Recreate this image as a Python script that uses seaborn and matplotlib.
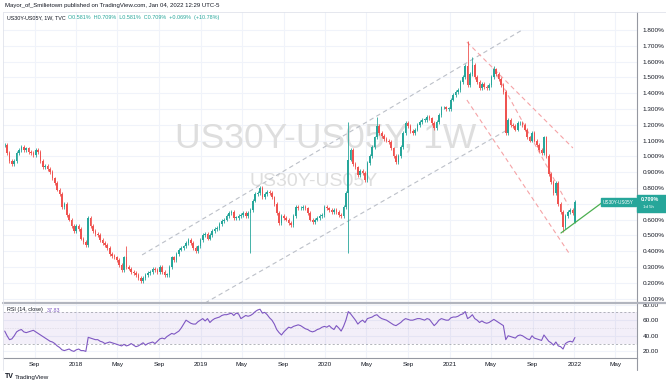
import numpy as np
import pandas as pd
import seaborn as sns
import matplotlib.pyplot as plt

# weekly closes of the US30Y-US05Y spread (%)
last_week = "2022-01-03"
closes = [
    1.07, 1.02, 0.97, 0.95, 0.97, 1.02, 1.04, 1.06, 1.04, 1.05,
    1.03, 1.02, 1.01, 1.04, 1.03, 0.97, 0.93, 0.94, 0.92, 0.90,
    0.86, 0.83, 0.79, 0.76, 0.68, 0.70, 0.63, 0.60, 0.56, 0.53,
    0.56, 0.54, 0.48, 0.46, 0.44, 0.61, 0.56, 0.53, 0.51, 0.50,
    0.47, 0.45, 0.44, 0.42, 0.38, 0.37, 0.36, 0.345, 0.31, 0.28,
    0.36, 0.30, 0.29, 0.27, 0.26, 0.25, 0.23, 0.21, 0.23, 0.25,
    0.26, 0.27, 0.29, 0.28, 0.27, 0.30, 0.27, 0.25, 0.25, 0.30,
    0.36, 0.345, 0.38, 0.41, 0.42, 0.43, 0.45, 0.47, 0.45, 0.42,
    0.40, 0.43, 0.47, 0.50, 0.51, 0.48, 0.50, 0.53, 0.54, 0.545,
    0.57, 0.59, 0.60, 0.62, 0.64, 0.65, 0.61, 0.61, 0.62, 0.63,
    0.64, 0.62, 0.64, 0.66, 0.72, 0.76, 0.77, 0.80, 0.74, 0.76,
    0.775, 0.77, 0.74, 0.70, 0.64, 0.58, 0.62, 0.61, 0.60, 0.58,
    0.565, 0.62, 0.68, 0.67, 0.675, 0.68, 0.67, 0.64, 0.60, 0.585,
    0.60, 0.61, 0.62, 0.63, 0.68, 0.67, 0.66, 0.65, 0.66, 0.65,
    0.63, 0.62, 0.68, 0.77, 0.98, 1.04, 0.95, 0.93, 0.88, 0.91,
    0.895, 0.85, 0.96, 1.00, 1.06, 1.12, 1.19, 1.15, 1.13, 1.11,
    1.10, 1.09, 1.05, 1.00, 0.965, 1.00, 1.06, 1.15, 1.21, 1.19,
    1.16, 1.15, 1.17, 1.20, 1.22, 1.23, 1.23, 1.25, 1.24, 1.21,
    1.18, 1.22, 1.26, 1.31, 1.31, 1.30, 1.30, 1.36, 1.39, 1.41,
    1.42, 1.47, 1.50, 1.57, 1.45, 1.52, 1.58, 1.50, 1.47, 1.43,
    1.46, 1.44, 1.43, 1.45, 1.50, 1.55, 1.52, 1.49, 1.45, 1.41,
    1.15, 1.23, 1.20, 1.19, 1.17, 1.21, 1.21, 1.20, 1.17, 1.12,
    1.10, 1.15, 1.10, 1.07, 1.04, 1.02, 1.12, 1.00, 0.89, 0.84,
    0.77, 0.83, 0.70, 0.65, 0.55, 0.62, 0.65, 0.66, 0.640, 0.709,
]
open_overrides = {239: 0.581}
wick = 0.012
spike_highs = {51: 0.43, 144: 1.22, 156: 1.25, 194: 1.73, 196: 1.63, 205: 1.57}
spike_lows = {103: 0.39, 144: 0.39, 234: 0.52, 239: 0.581}

# RSI(14, close) as drawn in the lower pane
rsi_values = [
    46, 40, 35, 36, 40, 45, 47, 48, 45, 44,
    45, 46, 47, 45, 43, 41, 39, 37, 35, 33,
    32, 30, 27, 25, 22, 21, 22, 23, 21, 20,
    22, 23, 21, 21, 20, 38, 37, 36, 35, 35,
    33, 32, 30, 31, 32, 31, 30, 29, 28, 27,
    29, 27, 28, 30, 28, 26, 27, 29, 31, 28,
    30, 31, 32, 30, 33, 36, 37, 36, 39, 41,
    43, 42, 44, 46, 50, 55, 60, 58, 56, 55,
    55, 58, 60, 62, 59, 62, 57, 60, 62, 63,
    64, 66, 67, 67, 68, 69, 66, 69, 68, 62,
    64, 66, 65, 66, 68, 71, 73, 74, 69, 70,
    67, 63, 60, 55, 48, 44, 41, 45, 48, 51,
    50, 52, 53, 54, 53, 51, 49, 48, 46, 45,
    46, 48, 49, 51, 52, 51, 53, 50, 48, 53,
    50, 46, 52, 60, 71, 68, 64, 60, 55, 58,
    60, 57, 62, 63, 64, 66, 67, 64, 62, 61,
    60, 58, 56, 54, 53, 55, 57, 60, 62, 61,
    60, 60, 61, 62, 62, 61, 60, 62, 61, 57,
    53, 56, 60, 62, 61, 60, 60, 63, 64, 64,
    65, 67, 68, 71, 62, 64, 67, 62, 60, 57,
    59, 57, 56, 57, 59, 61, 59, 57, 55, 53,
    35, 40, 39, 38, 37, 40, 41, 40, 38, 36,
    35, 40, 37, 36, 35, 34, 41, 37, 33, 31,
    28, 32, 27, 26, 23, 30, 32, 33, 32, 37.83,
]

# drawings: (date, value)
asc_upper = [("2018-07-13", 0.376), ("2021-08-01", 1.800)]
asc_lower = [("2019-01-14", 0.072), ("2021-06-18", 1.167)]
desc_1 = [("2021-02-20", 1.724), ("2021-12-28", 1.053)]
desc_2 = [("2021-05-08", 1.559), ("2021-12-14", 0.692)]
desc_3 = [("2021-02-20", 1.357), ("2021-12-20", 0.376)]
support = [("2021-11-23", 0.515), ("2022-03-26", 0.711)]

price_ticks = [0.1, 0.2, 0.3, 0.4, 0.5, 0.6, 0.7, 0.8, 0.9, 1.0,
               1.1, 1.2, 1.3, 1.4, 1.5, 1.6, 1.7, 1.8]
rsi_ticks = [20, 40, 60, 80]
date_ticks = ["2017-09-01", "2018-01-01", "2018-05-01", "2018-09-01", "2019-01-01",
              "2019-05-01", "2019-09-01", "2020-01-01", "2020-05-01", "2020-09-01",
              "2021-01-01", "2021-05-01", "2021-09-01", "2022-01-01", "2022-05-01"]
date_labels = ["Sep", "2018", "May", "Sep", "2019", "May", "Sep", "2020", "May",
               "Sep", "2021", "May", "Sep", "2022", "May"]

UP, DOWN = "#26a69a", "#ef5350"
TXT = "#131722"
GRID = "#f0f3fa"

sns.set_theme(style="white")
plt.rcParams["font.family"] = ["Liberation Sans", "DejaVu Sans"]

# build OHLC table
n = len(closes)
df = pd.DataFrame({"date": pd.date_range(end=last_week, periods=n, freq="7D"),
                   "close": closes, "rsi": rsi_values})
df["open"] = df["close"].shift(1).fillna(df["close"].iloc[0])
for i, v in open_overrides.items():
    df.loc[i, "open"] = v
df["high"] = df[["open", "close"]].max(axis=1) + wick
df["low"] = df[["open", "close"]].min(axis=1) - wick
for i, v in spike_highs.items():
    df.loc[i, "high"] = v
for i, v in spike_lows.items():
    df.loc[i, "low"] = v

fig = plt.figure(figsize=(6.66, 3.84), dpi=100)
W, H = 666, 384
ax = fig.add_axes([3 / W, 1 - 302 / H, 634 / W, 290 / H])
ax_rsi = fig.add_axes([3 / W, 1 - 358 / H, 634 / W, 55 / H], sharex=ax)

lw_date = pd.Timestamp(last_week)
xmin = lw_date - pd.Timedelta(days=1678)
xmax = lw_date + pd.Timedelta(days=182)
tick_dates = pd.to_datetime(date_ticks)

for a in (ax, ax_rsi):
    a.set_facecolor("white")
    for x in tick_dates:
        a.axvline(x, color=GRID, lw=0.8, zorder=0)
    for s in ("top", "left", "bottom"):
        a.spines[s].set_visible(False)
    a.spines["right"].set_color("#9598a1")
    a.spines["right"].set_linewidth(0.8)
    a.yaxis.tick_right()
    a.tick_params(axis="y", length=0, pad=4, labelsize=4.6, labelcolor=TXT)

for y in price_ticks:
    ax.axhline(y, color=GRID, lw=0.8, zorder=0)
for y in rsi_ticks:
    ax_rsi.axhline(y, color=GRID, lw=0.8, zorder=0)

# watermark
ax.text(0.509, 0.566, "US30Y-US05Y, 1W", transform=ax.transAxes, ha="center",
        va="center", fontsize=25.5, color="#dedede", zorder=0.5)
ax.text(0.49, 0.414, "US30Y-US05Y", transform=ax.transAxes, ha="center",
        va="center", fontsize=14, color="#dedede", zorder=0.5)

# candles
up = df["close"] >= df["open"]
for mask, col in ((up, UP), (~up, DOWN)):
    sub = df[mask]
    ax.vlines(sub["date"], sub["low"], sub["high"], color=col, lw=0.6, zorder=3)
    body = (sub["close"] - sub["open"]).abs().clip(lower=0.004)
    ax.bar(sub["date"], body, bottom=sub[["open", "close"]].min(axis=1),
           width=4.8, color=col, linewidth=0, zorder=3)

def draw(pts, **kw):
    d = pd.DataFrame(pts, columns=["date", "value"])
    d["date"] = pd.to_datetime(d["date"])
    sns.lineplot(data=d, x="date", y="value", ax=ax, legend=False, **kw)

draw(asc_upper, color="#bcc0c8", lw=0.8, dashes=(4, 3), zorder=2)
draw(asc_lower, color="#bcc0c8", lw=0.8, dashes=(4, 3), zorder=2)
for pts in (desc_1, desc_2, desc_3):
    draw(pts, color="#f5a3a6", lw=0.8, dashes=(4, 3), zorder=2)
draw(support, color="#4caf50", lw=0.9, zorder=4)

ax.set_ylim(0.078, 1.914)
ax.set_yticks(price_ticks)
ax.set_yticklabels([f"{v:.3f}%" for v in price_ticks])
ax.set_xlim(xmin, xmax)
ax.set_xlabel("")
ax.set_ylabel("")
ax.tick_params(axis="x", which="both", bottom=False, labelbottom=False)

# RSI pane
ax_rsi.axhspan(30, 70, color="#7e57c2", alpha=0.09, lw=0, zorder=0)
ax_rsi.axhline(70, color="#9598a1", lw=0.5, ls=(0, (3, 3)), zorder=1)
ax_rsi.axhline(30, color="#9598a1", lw=0.5, ls=(0, (3, 3)), zorder=1)
ax_rsi.axhline(50, color="#9598a1", lw=0.4, ls=(0, (1, 2)), alpha=0.5, zorder=1)
sns.lineplot(data=df, x="date", y="rsi", ax=ax_rsi, color="#7e57c2", lw=0.8, zorder=3)
ax_rsi.set_ylim(11.5, 82)
ax_rsi.set_yticks(rsi_ticks)
ax_rsi.set_yticklabels([f"{v:.2f}" for v in rsi_ticks])
ax_rsi.set_xlim(xmin, xmax)
ax_rsi.set_xticks(tick_dates)
ax_rsi.set_xticklabels(date_labels)
ax_rsi.tick_params(axis="x", length=0, pad=3, labelsize=4.6, labelcolor=TXT)
ax_rsi.set_xlabel("")
ax_rsi.set_ylabel("")
ax_rsi.spines["bottom"].set_visible(True)
ax_rsi.spines["bottom"].set_color("#9598a1")
ax_rsi.spines["bottom"].set_linewidth(0.8)

# pane separator and frame
fig.add_artist(plt.Line2D([3 / W, 1], [1 - 302.5 / H] * 2, color="#b2b5be", lw=1.6))
fig.add_artist(plt.Line2D([3 / W, 1], [1 - 12 / H] * 2, color="#e0e3eb", lw=0.6))
fig.add_artist(plt.Line2D([3 / W] * 2, [1 - 370 / H, 1 - 12 / H], color="#e0e3eb", lw=0.6))
fig.add_artist(plt.Line2D([637 / W] * 2, [1 - 370 / H, 1 - 358 / H], color="#9598a1", lw=0.8))

# texts
fig.text(5 / W, 1 - 6 / H, "Mayor_of_Smilietown published on TradingView.com, Jan 04, 2022 12:29 UTC-5",
         fontsize=4.3, color=TXT, va="center")
fig.text(7 / W, 1 - 18 / H, "US30Y-US05Y, 1W, TVC", fontsize=3.9, color=TXT, va="center")
fig.text(68 / W, 1 - 18 / H, "O0.581%  H0.709%  L0.581%  C0.709%  +0.069%  (+10.78%)",
         fontsize=3.9, color=UP, va="center")
fig.text(7 / W, 1 - 310 / H, "RSI (14, close)", fontsize=3.9, color=TXT, va="center")
fig.text(47 / W, 1 - 310 / H, "37.83", fontsize=3.9, color="#7e57c2", va="center")
fig.text(5 / W, 1 - 377 / H, "TV", fontsize=5, color=TXT, va="center", weight="bold")
fig.text(15 / W, 1 - 377 / H, "TradingView", fontsize=4.5, color=TXT, va="center")

# price tag on the right scale
fig.patches.append(plt.Rectangle((637 / W, 1 - 212 / H), 29 / W, 17 / H,
                                 transform=fig.transFigure, color=UP, zorder=5))
fig.text(641 / W, 1 - 199.5 / H, "0.709%", fontsize=3.9, color="white", va="center",
         weight="bold", zorder=6)
fig.text(643 / W, 1 - 207.5 / H, "1d 5h", fontsize=3.2, color="white", va="center", zorder=6)
fig.patches.append(plt.Rectangle((601 / W, 1 - 206 / H), 35 / W, 8 / H,
                                 transform=fig.transFigure, color=UP, zorder=5))
fig.text(618.5 / W, 1 - 202 / H, "US30Y-US05Y", fontsize=3.4, color="white",
         va="center", ha="center", zorder=6)

fig.savefig("out.png", dpi=100, facecolor="white")
